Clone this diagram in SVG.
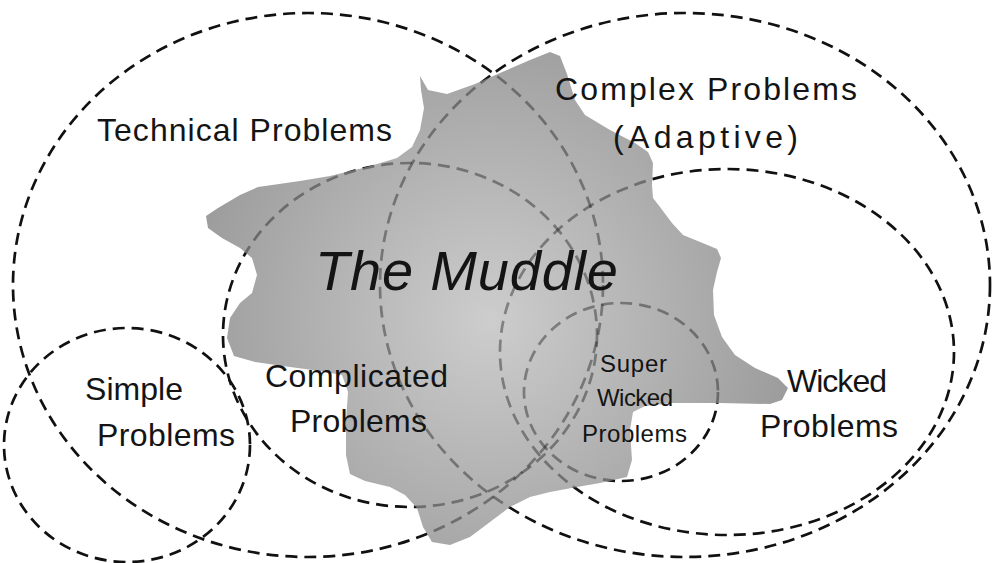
<svg xmlns="http://www.w3.org/2000/svg" xmlns:xlink="http://www.w3.org/1999/xlink" width="1000" height="563" viewBox="0 0 1000 563">
<style>
.dash{fill:none;stroke:#111;stroke-width:2.7;stroke-dasharray:12 7}
.lbl{font-family:"Liberation Sans","Noto Sans",sans-serif;font-size:32px;fill:#141414}
.sm{font-size:24px}
.big{font-size:56px;font-style:italic}
</style>
<defs>
<path id="blob" d="M420,76 L428,90 L447,94 L475,84 L500,73 L530,60 L550,52 L560,56 L567,74 L575,100 L585,115 L610,130 L635,143 L648,152 L653,163 L652,185 L653,198 L660,207 L672,223 L683,235 L705,244 L717,249 L721,258 L717,272 L713,290 L714,315 L722,337 L735,355 L755,368 L778,378 L788,388 L782,400 L770,404 L720,403 L673,403 L645,406 L633,412 L630,430 L632,460 L627,477 L600,483 L577,487 L550,492 L530,497 L510,507 L490,522 L470,537 L450,545 L432,542 L423,527 L417,508 L405,495 L390,487 L365,481 L350,474 L346,455 L346,420 L348,392 L342,375 L320,371 L290,367 L255,362 L234,356 L227,338 L230,318 L240,303 L252,293 L257,275 L252,258 L240,248 L222,238 L208,228 L206,216 L218,208 L240,195 L258,187 L300,181 L330,176 L367,167 L397,158 L412,147 L420,130 L424,108 L421,90 Z"/>
<radialGradient id="mg" gradientUnits="userSpaceOnUse" cx="490" cy="320" r="330">
<stop offset="0" stop-color="#cdcdcd"/>
<stop offset="0.45" stop-color="#b5b5b5"/>
<stop offset="1" stop-color="#989898"/>
</radialGradient>
<mask id="dim" maskUnits="userSpaceOnUse" x="0" y="0" width="1000" height="563">
<rect width="1000" height="563" fill="#fff"/>
<use xlink:href="#blob" href="#blob" fill="#666"/>
</mask>
</defs>
<rect width="1000" height="563" fill="#fff"/>
<g id="muddle">
<use xlink:href="#blob" href="#blob" fill="url(#mg)"/>
<text class="lbl big" x="315" y="290" textLength="303">The Muddle</text>
</g>
<g id="technical">
<ellipse class="dash" mask="url(#dim)" cx="308" cy="285" rx="295" ry="272"/>
<text class="lbl" x="97" y="141" textLength="295">Technical Problems</text>
</g>
<g id="complex">
<ellipse class="dash" mask="url(#dim)" cx="685" cy="285" rx="305" ry="272"/>
<text class="lbl" x="555" y="100" textLength="302">Complex Problems</text>
<text class="lbl" x="613" y="148" textLength="185">(Adaptive)</text>
</g>
<g id="wicked">
<ellipse class="dash" mask="url(#dim)" cx="727" cy="352" rx="227" ry="183"/>
<text class="lbl" x="787" y="392" textLength="100">Wicked</text>
<text class="lbl" x="760" y="437" textLength="138">Problems</text>
</g>
<g id="complicated">
<ellipse class="dash" mask="url(#dim)" cx="410" cy="335" rx="187" ry="172"/>
<text class="lbl" x="265" y="387" textLength="183">Complicated</text>
<text class="lbl" x="290" y="432" textLength="137">Problems</text>
</g>
<g id="simple">
<ellipse class="dash" mask="url(#dim)" cx="127" cy="445" rx="123" ry="117"/>
<text class="lbl" x="85" y="400" textLength="98">Simple</text>
<text class="lbl" x="97" y="446" textLength="138">Problems</text>
</g>
<g id="superwicked">
<ellipse class="dash" mask="url(#dim)" cx="621" cy="392" rx="97" ry="89"/>
<text class="lbl sm" x="600" y="372" textLength="67">Super</text>
<text class="lbl sm" x="597" y="406" textLength="76">Wicked</text>
<text class="lbl sm" x="582" y="442" textLength="105">Problems</text>
</g>
<g id="connectors"/>
</svg>
